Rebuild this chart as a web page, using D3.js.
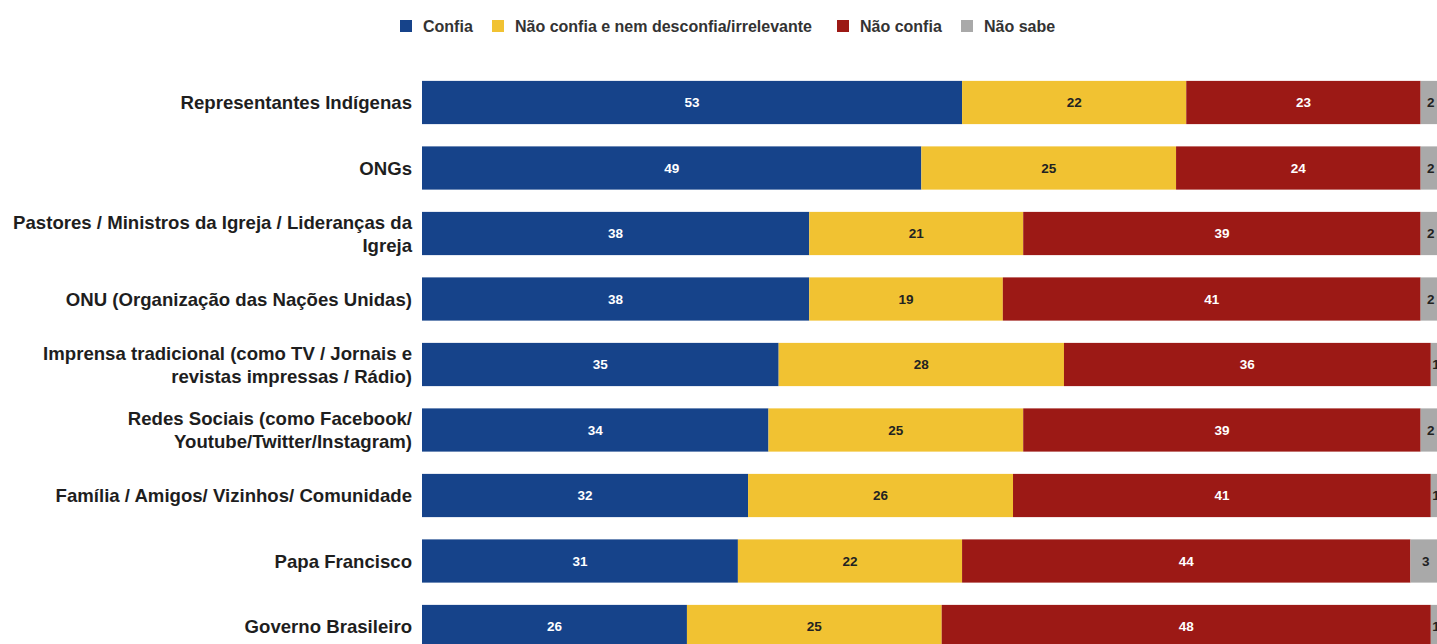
<!DOCTYPE html>
<html>
<head>
<meta charset="utf-8">
<script src="https://cdn.jsdelivr.net/npm/d3@7"></script>
<style>
  body { margin: 0; background: #fff; }
  svg { display: block; font-family: "Liberation Sans", Arial, sans-serif; }
</style>
</head>
<body>
<div id="chart"></div>
<script>
// categories (\n marks the label line break)
var categories = [
    "Representantes Indígenas",
    "ONGs",
    "Pastores / Ministros da Igreja / Lideranças da\nIgreja",
    "ONU (Organização das Nações Unidas)",
    "Imprensa tradicional (como TV / Jornais e\nrevistas impressas / Rádio)",
    "Redes Sociais (como Facebook/\nYoutube/Twitter/Instagram)",
    "Família / Amigos/ Vizinhos/ Comunidade",
    "Papa Francisco",
    "Governo Brasileiro"
];

var seriesNames = ["Confia", "Não confia e nem desconfia/irrelevante", "Não confia", "Não sabe"];
var confia     = [53, 49, 38, 38, 35, 34, 32, 31, 26];
var neutro     = [22, 25, 21, 19, 28, 25, 26, 22, 25];
var naoConfia  = [23, 24, 39, 41, 36, 39, 41, 44, 48];
var naoSabe    = [2, 2, 2, 2, 1, 2, 1, 3, 1];

var colors = ["#16438a", "#f1c232", "#9c1915", "#a9a9a9"];
var labelColors = ["#ffffff", "#222222", "#ffffff", "#222222"];

var svgWidth = 1437;
var svgHeight = 644;

var margin = { top: 48, left: 422 };

var svg = d3.select("#chart")
    .append("svg")
    .attr("width", svgWidth)
    .attr("height", svgHeight);

// build stacked rows
var rows = categories.map(function(c, i) {
    return { cat: c, values: [confia[i], neutro[i], naoConfia[i], naoSabe[i]] };
});

var xScale = d3.scaleLinear()
    .domain([0, 100])
    .range([margin.left, margin.left + 1019]);

var yScale = d3.scaleBand()
    .domain(categories)
    .range([69.75, 69.75 + 65.5 * categories.length])
    .paddingInner(0.34)
    .paddingOuter(0.17);

var rowGroups = svg.selectAll(".row")
    .data(rows)
    .enter()
    .append("g")
    .attr("class", "row")
    .attr("transform", d => `translate(0, ${yScale(d.cat)})`);

rowGroups.each(function(d) {
    var g = d3.select(this);
    var start = 0;
    d.values.forEach(function(v, k) {
        var x0 = xScale(start);
        var x1 = xScale(start + v);
        g.append("rect")
            .attr("x", x0)
            .attr("y", 0)
            .attr("width", x1 - x0)
            .attr("height", yScale.bandwidth())
            .attr("fill", colors[k]);
        g.append("text")
            .attr("x", (x0 + x1) / 2)
            .attr("y", yScale.bandwidth() / 2)
            .attr("dy", "0.36em")
            .attr("text-anchor", "middle")
            .attr("fill", labelColors[k])
            .style("font-size", "13.5px")
            .style("font-weight", "bold")
            .text(v);
        start += v;
    });
});

// category labels
rowGroups.each(function(d) {
    var lines = d.cat.split("\n");
    var lh = 23;
    var y0 = yScale.bandwidth() / 2 - (lines.length - 1) * lh / 2;
    var t = d3.select(this).append("text")
        .attr("text-anchor", "end")
        .attr("fill", "#1e1e1e")
        .style("font-size", "18.6px")
        .style("font-weight", "bold");
    lines.forEach(function(l, j) {
        t.append("tspan")
            .attr("x", 412)
            .attr("y", y0 + j * lh)
            .attr("dy", "0.35em")
            .text(l);
    });
});

// legend
var legendX = [423, 515, 860, 984];
var legend = svg.append("g").attr("class", "legend");
seriesNames.forEach(function(name, k) {
    legend.append("rect")
        .attr("x", legendX[k] - 23)
        .attr("y", 20)
        .attr("width", 12)
        .attr("height", 12)
        .attr("fill", colors[k]);
    legend.append("text")
        .attr("x", legendX[k])
        .attr("y", 26)
        .attr("dy", "0.36em")
        .attr("fill", "#333")
        .style("font-size", "16px")
        .style("font-weight", "bold")
        .text(name);
});
</script>
</body>
</html>
